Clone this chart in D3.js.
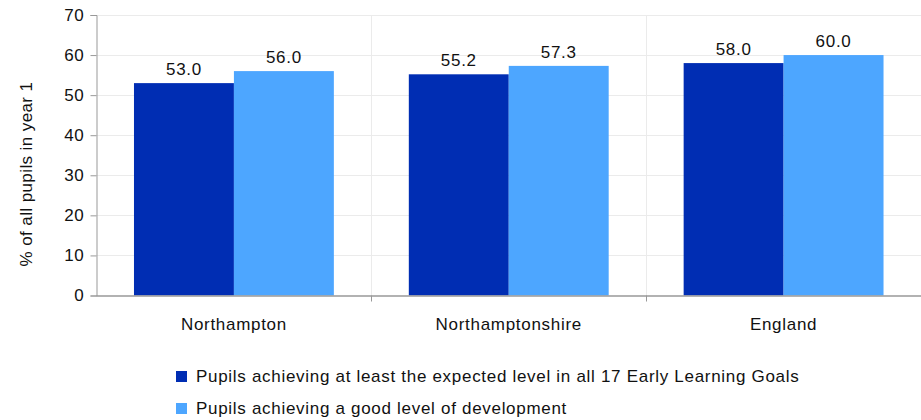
<!DOCTYPE html>
<meta charset="utf-8">
<style>
body { margin: 0; background: #fff; }
svg { font: 17px "Liberation Sans", Arial, sans-serif; letter-spacing: 0.7px; }
.grid line { stroke: #ebebeb; }
.axis path, .axis line { stroke: #999; }
</style>
<body>
<script src="https://cdn.jsdelivr.net/npm/d3@7"></script>
<script>
var areas = ["Northampton", "Northamptonshire", "England"];
var seriesNames = [
  "Pupils achieving at least the expected level in all 17 Early Learning Goals",
  "Pupils achieving a good level of development"
];
var expectedLevel = [53.0, 55.2, 58.0];
var goodLevel = [56.0, 57.3, 60.0];
var yTicks = [0, 10, 20, 30, 40, 50, 60, 70];
var colors = ["#002db3", "#4da6ff"];

var width = 921, height = 420,
    plotLeft = 96.5, plotRight = 921, plotTop = 15, plotBottom = 295.5;

var svg = d3.select("body").append("svg")
    .attr("width", width)
    .attr("height", height);

var x = d3.scaleBand().domain(areas).range([plotLeft, plotRight]);
var y = d3.scaleLinear().domain([0, 70]).range([plotBottom, plotTop]);
var xs = d3.scaleBand().domain([0, 1]).range([0, x.bandwidth()]).paddingOuter(0.375).paddingInner(0);

// horizontal gridlines
svg.append("g").attr("class", "grid")
  .selectAll("line").data(yTicks.slice(1)).enter().append("line")
    .attr("x1", plotLeft).attr("x2", plotRight)
    .attr("y1", function(d) { return Math.round(y(d)) + 0.5; })
    .attr("y2", function(d) { return Math.round(y(d)) + 0.5; });

// vertical category separators
svg.append("g").attr("class", "grid")
  .selectAll("line").data(areas.slice(1)).enter().append("line")
    .attr("x1", function(d) { return Math.round(x(d)) + 0.5; })
    .attr("x2", function(d) { return Math.round(x(d)) + 0.5; })
    .attr("y1", plotTop).attr("y2", plotBottom);

var data = areas.map(function(a, i) { return { area: a, values: [expectedLevel[i], goodLevel[i]] }; });

var group = svg.selectAll(".bars").data(data).enter().append("g")
    .attr("transform", function(d) { return "translate(" + x(d.area) + ",0)"; });

group.selectAll("rect").data(function(d) { return d.values; }).enter().append("rect")
    .attr("x", function(d, i) { return xs(i); })
    .attr("width", xs.bandwidth())
    .attr("y", function(d) { return y(d); })
    .attr("height", function(d) { return plotBottom - y(d); })
    .attr("fill", function(d, i) { return colors[i]; });

group.selectAll("text").data(function(d) { return d.values; }).enter().append("text")
    .attr("x", function(d, i) { return xs(i) + xs.bandwidth() / 2; })
    .attr("y", function(d) { return y(d) - 8; })
    .attr("text-anchor", "middle")
    .attr("fill", "#111")
    .text(function(d) { return d.toFixed(1); });

// y axis
var yAxis = svg.append("g").attr("class", "axis")
    .attr("transform", "translate(" + plotLeft + ",0)")
    .call(d3.axisLeft(y).tickValues(yTicks).tickSize(6).tickPadding(6));
yAxis.selectAll("text").style("font-size", "17px").style("font-family", "inherit").attr("fill", "#111");

// x axis line with ticks at category boundaries
var xAxis = svg.append("g").attr("class", "axis");
xAxis.append("line").attr("x1", plotLeft).attr("x2", plotRight)
    .attr("y1", plotBottom + 0.5).attr("y2", plotBottom + 0.5).attr("stroke-width", 1.5);
xAxis.selectAll(".tk").data(areas.slice(1)).enter().append("line")
    .attr("x1", function(d) { return Math.round(x(d)) + 0.5; })
    .attr("x2", function(d) { return Math.round(x(d)) + 0.5; })
    .attr("y1", plotBottom).attr("y2", plotBottom + 6);
svg.selectAll(".cat").data(areas).enter().append("text")
    .attr("x", function(d) { return x(d) + x.bandwidth() / 2; })
    .attr("y", 330)
    .attr("text-anchor", "middle")
    .attr("fill", "#111")
    .text(function(d) { return d; });

// y label
svg.append("text")
    .attr("transform", "translate(32,174) rotate(-90)")
    .attr("text-anchor", "middle")
    .attr("fill", "#111")
    .style("letter-spacing", "0.4px")
    .text("% of all pupils in year 1");

// legend
var legend = svg.selectAll(".legend").data(seriesNames).enter().append("g")
    .attr("transform", function(d, i) { return "translate(176," + (376 + i * 32) + ")"; });
legend.append("rect").attr("x", 0).attr("y", -5).attr("width", 11).attr("height", 11)
    .attr("fill", function(d, i) { return colors[i]; });
legend.append("text").attr("x", 20).attr("y", 6).attr("fill", "#111")
    .text(function(d) { return d; });
</script>
